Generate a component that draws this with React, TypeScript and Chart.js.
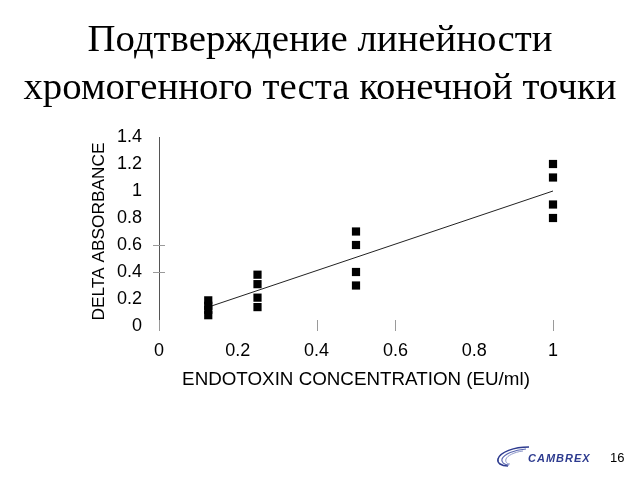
import React, { useEffect, useRef } from "react";
import { Chart, registerables } from "chart.js";

Chart.register(...registerables);

// ---- data ----
const titleLines = ["Подтверждение линейности", "хромогенного теста конечной точки"];
const xAxisTitle = "ENDOTOXIN CONCENTRATION (EU/ml)";
const yAxisTitle = "DELTA ABSORBANCE";

const concentrations = [0.125, 0.25, 0.5, 1];
const absorbance0125 = [0.19, 0.15, 0.12, 0.08];
const absorbance025 = [0.38, 0.31, 0.21, 0.14];
const absorbance05 = [0.7, 0.6, 0.4, 0.3];
const absorbance1 = [1.2, 1.1, 0.9, 0.8];

const trendX = [0.125, 1];
const trendY = [0.14, 1.0];

const xTickMarks = [0, 0.4, 0.6, 1];
const yTickMarks = [0.4, 0.6];

const pageNumber = "16";
const logoText = "CAMBREX";

const replicateGroups = [absorbance0125, absorbance025, absorbance05, absorbance1];

const tickMarkPlugin = {
  id: "tickMarks",
  afterDatasetsDraw(chart: any) {
    const { ctx, scales } = chart;
    const xs = scales.x;
    const ys = scales.y;
    ctx.save();
    ctx.strokeStyle = "#9a9a9a";
    ctx.lineWidth = 1;
    const y0 = ys.getPixelForValue(0);
    for (const v of xTickMarks) {
      const px = Math.round(xs.getPixelForValue(v)) + 0.5;
      ctx.beginPath();
      ctx.moveTo(px, y0 - 6);
      ctx.lineTo(px, y0 + 5);
      ctx.stroke();
    }
    const x0 = xs.getPixelForValue(0);
    for (const v of yTickMarks) {
      const py = Math.round(ys.getPixelForValue(v)) + 0.5;
      ctx.beginPath();
      ctx.moveTo(x0 - 6, py);
      ctx.lineTo(x0 + 6, py);
      ctx.stroke();
    }
    ctx.restore();
  },
};

function ChartCanvas() {
  const ref = useRef<HTMLCanvasElement | null>(null);
  useEffect(() => {
    if (!ref.current) return;
    const points: { x: number; y: number }[] = [];
    concentrations.forEach((c, i) => {
      replicateGroups[i].forEach((v) => points.push({ x: c, y: v }));
    });
    const trend = trendX.map((x, i) => ({ x, y: trendY[i] }));
    const chart = new Chart(ref.current, {
      type: "scatter",
      data: {
        datasets: [
          {
            type: "line",
            data: trend,
            borderColor: "#222",
            borderWidth: 1,
            pointRadius: 0,
            fill: false,
            order: 2,
          } as any,
          {
            data: points,
            pointStyle: "rect",
            pointRadius: 5.8,
            pointBackgroundColor: "#000",
            pointBorderColor: "#000",
            pointBorderWidth: 0,
            clip: false,
            order: 1,
          } as any,
        ],
      },
      options: {
        animation: false,
        responsive: false,
        events: [],
        layout: { padding: { left: 80, top: 137, right: 87, bottom: 80 } },
        plugins: {
          legend: { display: false },
          tooltip: { enabled: false },
        },
        scales: {
          x: {
            type: "linear",
            min: 0,
            max: 1,
            afterFit: (s: any) => {
              s.height = 74;
            },
            grid: { display: false, drawTicks: false },
            border: { display: false },
            ticks: {
              stepSize: 0.2,
              padding: 14,
              color: "#000",
              font: { family: "Liberation Sans, Arial, sans-serif", size: 18 },
              callback: (v: any) => String(Math.round(Number(v) * 10) / 10),
            },
            title: {
              display: true,
              text: xAxisTitle,
              color: "#000",
              font: { family: "Liberation Sans, Arial, sans-serif", size: 18.8 },
              padding: { top: 0, bottom: 9 },
            },
          },
          y: {
            type: "linear",
            min: 0,
            max: 1.4,
            afterFit: (s: any) => {
              s.width = 79;
            },
            grid: { display: false, drawTicks: false },
            border: { display: true, color: "#555", width: 1 },
            ticks: {
              stepSize: 0.2,
              padding: 17,
              color: "#000",
              font: { family: "Liberation Sans, Arial, sans-serif", size: 18 },
              callback: (v: any) => String(Math.round(Number(v) * 10) / 10),
            },
            title: {
              display: true,
              text: yAxisTitle,
              color: "#000",
              font: { family: "Liberation Sans, Arial, sans-serif", size: 17.3 },
              padding: { top: 9, bottom: 0 },
            },
          },
        },
      },
      plugins: [tickMarkPlugin],
    });
    return () => chart.destroy();
  }, []);
  return <canvas ref={ref} width={640} height={480} style={{ position: "absolute", left: 0, top: 0 }} />;
}

export default function App() {
  return (
    <div
      style={{
        position: "fixed",
        left: 0,
        top: 0,
        width: 640,
        height: 480,
        background: "#fff",
        overflow: "hidden",
      }}
    >
      <div
        style={{
          position: "absolute",
          left: 0,
          top: 14,
          width: 640,
          textAlign: "center",
          fontFamily: "'Liberation Serif', 'Times New Roman', serif",
          fontSize: 38.8,
          lineHeight: "48px",
          color: "#000",
          zIndex: 2,
        }}
      >
        {titleLines.map((t, i) => (
          <div key={i}>{t}</div>
        ))}
      </div>
      <ChartCanvas />
      <svg
        width={34}
        height={22}
        viewBox="0 0 34 22"
        style={{ position: "absolute", left: 496, top: 446 }}
      >
        <path d="M33 1 C18 1 4 6 2 13 C1 17 5 20 12 20" fill="none" stroke="#2d3b8f" strokeWidth={1.6} />
        <path d="M30 3 C18 4 8 8 6 13 C5 16 8 19 13 19" fill="none" stroke="#5a67b0" strokeWidth={1.2} />
        <path d="M27 5 C18 6 11 10 10 13 C9 16 11 18 14 18" fill="none" stroke="#8e98c9" strokeWidth={1} />
      </svg>
      <div
        style={{
          position: "absolute",
          left: 528,
          top: 451,
          fontFamily: "'Liberation Sans', Arial, sans-serif",
          fontStyle: "italic",
          fontWeight: "bold",
          fontSize: 11,
          letterSpacing: "1px",
          color: "#2d3b8f",
          lineHeight: "14px",
        }}
      >
        {logoText}
      </div>
      <div
        style={{
          position: "absolute",
          left: 610,
          top: 450,
          fontFamily: "'Liberation Sans', Arial, sans-serif",
          fontSize: 13,
          color: "#000",
          lineHeight: "16px",
        }}
      >
        {pageNumber}
      </div>
    </div>
  );
}
